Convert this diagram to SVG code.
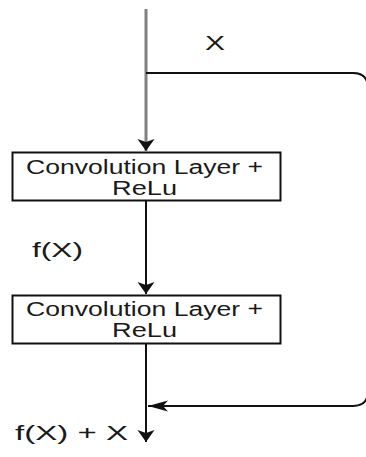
<svg xmlns="http://www.w3.org/2000/svg" width="366" height="457" viewBox="0 0 366 457">
  <style>
    .box { fill: #ffffff; stroke: #111111; stroke-width: 2; }
    .lbl { font-family: "Liberation Sans", Arial, sans-serif; font-size: 20px; fill: #1a1a1a; }
    .edge { fill: none; stroke: #111111; stroke-width: 2; }
    .edge-in { fill: none; stroke: #808080; stroke-width: 3; }
  </style>
  <defs>
    <marker id="arrV" markerUnits="userSpaceOnUse" markerWidth="14" markerHeight="19" refX="12" refY="8.5" orient="auto" overflow="visible">
      <path d="M0,0 L12,8.5 L0,17 L3,8.5 z" fill="#111111"/>
    </marker>
    <marker id="arrH" markerUnits="userSpaceOnUse" markerWidth="22" markerHeight="13" refX="20" refY="5.5" orient="auto" overflow="visible">
      <path d="M0,0 L20,5.5 L0,11 L5,5.5 z" fill="#111111"/>
    </marker>
  </defs>
  <rect width="366" height="457" fill="#ffffff"/>

  <g id="connectors">
    <path class="edge-in" d="M146,9 V151" marker-end="url(#arrV)"/>
    <path class="edge" d="M146,73 H353 Q368,73 368,88 V391 Q368,406 353,406 H148" marker-end="url(#arrH)"/>
    <path class="edge" d="M146,201 V294" marker-end="url(#arrV)"/>
    <path class="edge" d="M146,343 V442" marker-end="url(#arrV)"/>
  </g>

  <g id="label-x">
    <text class="lbl" x="205" y="50" textLength="20" lengthAdjust="spacingAndGlyphs">X</text>
  </g>
  <g id="label-fx">
    <text class="lbl" x="32" y="257" textLength="51" lengthAdjust="spacingAndGlyphs">f(X)</text>
  </g>
  <g id="label-fxx">
    <text class="lbl" x="15" y="440" textLength="113" lengthAdjust="spacingAndGlyphs">f(X) + X</text>
  </g>

  <g id="conv1">
    <rect class="box" x="12.5" y="152.5" width="268" height="48"/>
    <text class="lbl" x="26" y="174" textLength="237" lengthAdjust="spacingAndGlyphs">Convolution Layer +</text>
    <text class="lbl" x="112" y="195" textLength="65" lengthAdjust="spacingAndGlyphs">ReLu</text>
  </g>

  <g id="conv2">
    <rect class="box" x="12.5" y="295.5" width="268" height="48"/>
    <text class="lbl" x="26" y="316" textLength="237" lengthAdjust="spacingAndGlyphs">Convolution Layer +</text>
    <text class="lbl" x="112" y="337" textLength="65" lengthAdjust="spacingAndGlyphs">ReLu</text>
  </g>
</svg>
